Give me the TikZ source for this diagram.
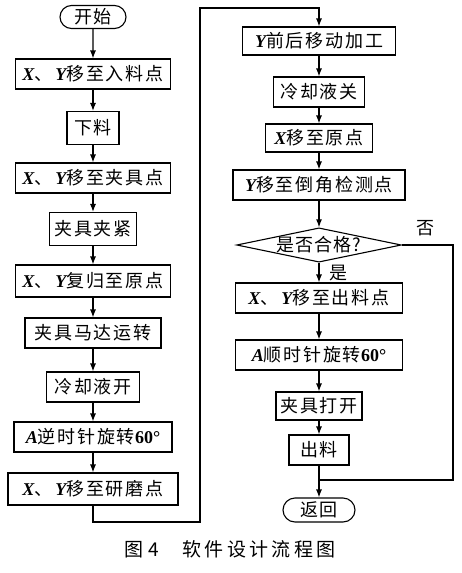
\documentclass[tikz,border=0pt]{standalone}
\usepackage{fontspec}
\setmainfont{Noto Sans CJK SC}
\newfontfamily\latinfont{Liberation Serif}
\usetikzlibrary{shapes.geometric, shapes.misc, arrows.meta}
\newcommand{\vx}[1]{{\latinfont\bfseries\itshape #1}}
\newcommand{\nval}[1]{{\latinfont\bfseries #1}}

\begin{document}
\begin{tikzpicture}[x=1pt, y=-1pt, line width=1.1pt,
    box/.style={draw, rectangle, minimum height=30pt, inner sep=0pt,
      font=\fontsize{18}{18}\selectfont\addfontfeature{LetterSpace=10}},
    term/.style={draw, rounded rectangle, minimum height=23pt, inner sep=0pt,
      font=\fontsize{18}{18}\selectfont\addfontfeature{LetterSpace=10}},
    test/.style={draw, diamond, aspect=4.8, inner sep=0pt,
      font=\fontsize{18}{18}\selectfont\addfontfeature{LetterSpace=6}},
    flow/.style={-{Latex[length=8pt,width=6pt]}},
    lbl/.style={font=\fontsize{18}{18}\selectfont}]
  \useasboundingbox (0,0) rectangle (461,573);
  % left column
  \node[term, minimum width=66pt] (start) at (93,17) {开始};
  \node[box, minimum width=155pt] (feed) at (93,74) {\vx{X}、\,\vx{Y}移至入料点};
  \node[box, minimum width=52pt, minimum height=33pt] (drop) at (93,128) {下料};
  \node[box, minimum width=155pt] (clampPos) at (93,178) {\vx{X}、\,\vx{Y}移至夹具点};
  \node[box, minimum width=87pt, minimum height=33pt] (clamp) at (93,229) {夹具夹紧};
  \node[box, minimum width=155pt, minimum height=32pt] (home) at (93,281) {\vx{X}、\,\vx{Y}复归至原点};
  \node[box, minimum width=136pt] (motor) at (93,333) {夹具马达运转};
  \node[box, minimum width=93pt] (coolOn) at (93,387) {冷却液开};
  \node[box, minimum width=158pt] (rotL) at (93,437) {\vx{A}逆时针旋转\nval{60°}};
  \node[box, minimum width=170pt, minimum height=32pt] (grind) at (93,489) {\vx{X}、\,\vx{Y}移至研磨点};
  % right column
  \node[box, minimum width=153pt, minimum height=28pt] (shuttle) at (319,41) {\vx{Y}前后移动加工};
  \node[box, minimum width=91pt] (coolOff) at (319,92) {冷却液关};
  \node[box, minimum width=107pt, minimum height=28pt] (xHome) at (319,138) {\vx{X}移至原点};
  \node[box, minimum width=172pt] (chamfer) at (319,185) {\vx{Y}移至倒角检测点};
  \node[test] (check) at (319,245) {是否合格?};
  \node[box, minimum width=167pt] (outPos) at (319,298) {\vx{X}、\,\vx{Y}移至出料点};
  \node[box, minimum width=167pt] (rotR) at (319,355) {\vx{A}顺时针旋转\nval{60°}};
  \node[box, minimum width=86pt, minimum height=28pt] (release) at (319,406) {夹具打开};
  \node[box, minimum width=60pt] (unload) at (319,450) {出料};
  \node[term, minimum width=72pt, minimum height=24pt] (ret) at (319,510) {返回};
  \node[lbl] (yesL) at (338,273) {是};
  \node[lbl] (noL) at (425,228) {否};
  % connectors
  \foreach \a/\b in {start/feed, feed/drop, drop/clampPos, clampPos/clamp,
      clamp/home, home/motor, motor/coolOn, coolOn/rotL, rotL/grind,
      shuttle/coolOff, coolOff/xHome, xHome/chamfer, chamfer/check,
      check/outPos, outPos/rotR, rotR/release, release/unload}
    \draw[flow] (\a) -- (\b);
  \coordinate (loopA) at (200,522);
  \coordinate (loopB) at (200,8);
  \draw[flow] (grind.south) |- (loopA) -- (loopB) -| (shuttle.north);
  \coordinate (noR) at (453,480);
  \coordinate (join) at (319,480);
  \draw (check.east) -| (noR) -- (join);
  \draw (unload.south) -- (join);
  \draw[flow] (join) -- (ret.north);
  % caption
  \node[font=\fontsize{19}{19}\selectfont\addfontfeature{LetterSpace=18}] (cap) at (230,549)
    {图\hspace{0.3em}4\hspace{1.2em}软件设计流程图};
\end{tikzpicture}
\end{document}
